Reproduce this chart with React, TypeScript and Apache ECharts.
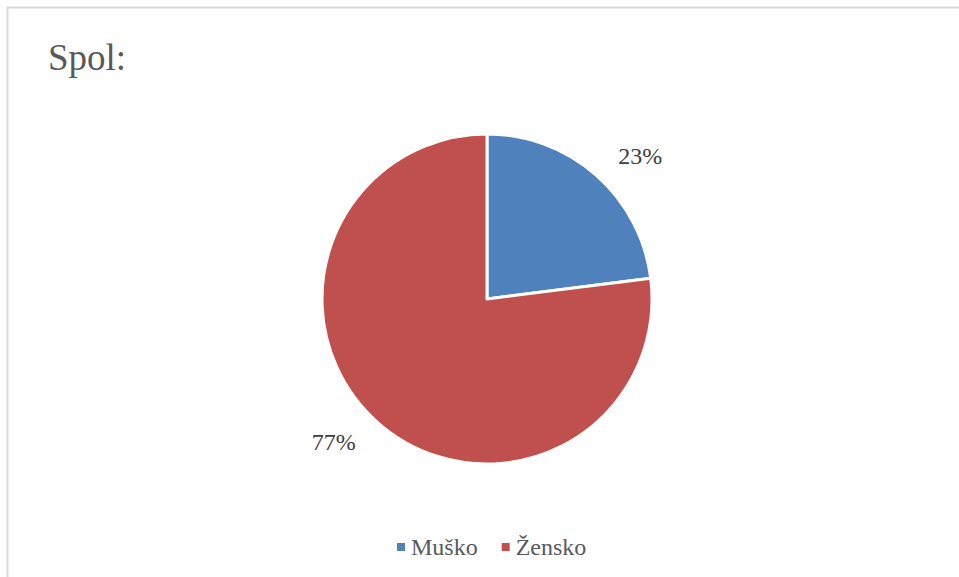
import React, { useEffect, useRef } from "react";
import * as echarts from "echarts";

const categories = ["Muško", "Žensko"];
const values = [23, 77];
const colors = ["#4F81BD", "#C0504D"];
const titleText = "Spol:";

export default function App() {
  const ref = useRef<HTMLDivElement>(null);
  useEffect(() => {
    document.body.style.margin = "0";
    const chart = echarts.init(ref.current!, null, { renderer: "svg" });
    const font = "'Liberation Serif', serif";
    chart.setOption({
      animation: false,
      backgroundColor: "#ffffff",
      title: {
        text: titleText,
        left: 43,
        top: 34,
        padding: 5,
        textStyle: { fontFamily: font, fontSize: 37, fontWeight: "normal", color: "#595959" },
      },
      legend: {
        top: 530,
        left: 390,
        itemWidth: 10,
        itemHeight: 10,
        itemGap: 22,
        icon: "rect",
        textStyle: { fontFamily: font, fontSize: 24, color: "#595959" },
        data: categories,
      },
      graphic: [
        {
          type: "rect",
          shape: { x: 7.5, y: 7.5, width: 960, height: 600 },
          style: { fill: "none", stroke: "#d9d9d9", lineWidth: 2 },
          silent: true,
          z: -1,
        },
      ],
      series: [
        {
          type: "pie",
          center: [487, 299],
          radius: [0, 165],
          startAngle: 90,
          clockwise: true,
          data: categories.map((c, i) => ({
            name: c,
            value: values[i],
            itemStyle: { color: colors[i] },
          })),
          itemStyle: { borderColor: "#ffffff", borderWidth: 3 },
          label: {
            show: true,
            position: "outside",
            formatter: "{d}%",
            fontFamily: font,
            fontSize: 24,
            color: "#404040",
          },
          labelLine: { show: false, length: 26, length2: 0 },
        },
      ],
    });
    return () => chart.dispose();
  }, []);
  return <div ref={ref} style={{ width: 959, height: 577 }} />;
}
